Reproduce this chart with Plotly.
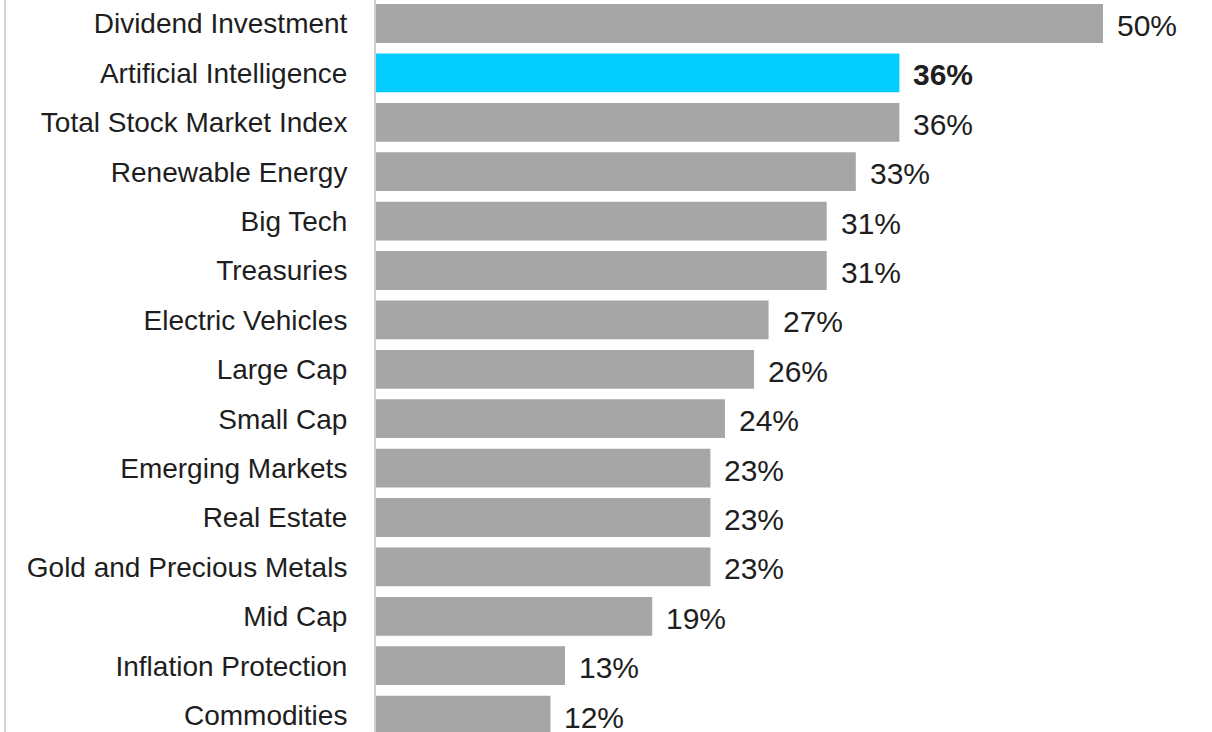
import plotly.graph_objects as go

# Share of respondents interested in each investment theme
categories = [
    "Dividend Investment",
    "Artificial Intelligence",
    "Total Stock Market Index",
    "Renewable Energy",
    "Big Tech",
    "Treasuries",
    "Electric Vehicles",
    "Large Cap",
    "Small Cap",
    "Emerging Markets",
    "Real Estate",
    "Gold and Precious Metals",
    "Mid Cap",
    "Inflation Protection",
    "Commodities",
]
values = [50, 36, 36, 33, 31, 31, 27, 26, 24, 23, 23, 23, 19, 13, 12]
highlight = "Artificial Intelligence"

GRAY = "#A6A6A6"
CYAN = "#03CDFF"
TEXT = "#1E1E1E"
FONT = "Liberation Sans, Arial, Helvetica, sans-serif"

colors = [CYAN if c == highlight else GRAY for c in categories]

fig = go.Figure(
    go.Bar(
        x=values,
        y=categories,
        orientation="h",
        width=0.785,
        marker=dict(color=colors, line=dict(width=0)),
        hoverinfo="skip",
    )
)

# Value labels to the right of each bar
for c, v in zip(categories, values):
    txt = f"{v}%"
    if c == highlight:
        txt = f"<b>{txt}</b>"
    fig.add_annotation(
        x=v, y=c, text=txt, showarrow=False,
        xanchor="left", yanchor="middle", xshift=12, yshift=-2,
        font=dict(family=FONT, size=30, color=TEXT),
    )

# Thin frame line at the far left edge
fig.add_shape(
    type="line", xref="paper", yref="paper",
    x0=-0.4438, x1=-0.4438, y0=0, y1=1,
    line=dict(color="#D3D3D3", width=2),
)

fig.update_layout(
    width=1212, height=732,
    margin=dict(l=376, r=0, t=0, b=0),
    paper_bgcolor="white", plot_bgcolor="white",
    showlegend=False,
    bargap=0.2,
)
fig.update_xaxes(
    range=[0, 57.5], visible=False, showgrid=False, zeroline=False,
)
fig.update_yaxes(
    categoryorder="array", categoryarray=categories,
    range=[14.342, -0.476],
    showgrid=False, zeroline=False,
    showline=True, linecolor="#D0D0D0", linewidth=2,
    ticks="", ticklabelstandoff=21,
    tickfont=dict(family=FONT, size=28, color=TEXT),
)

fig.write_html("out.html")
